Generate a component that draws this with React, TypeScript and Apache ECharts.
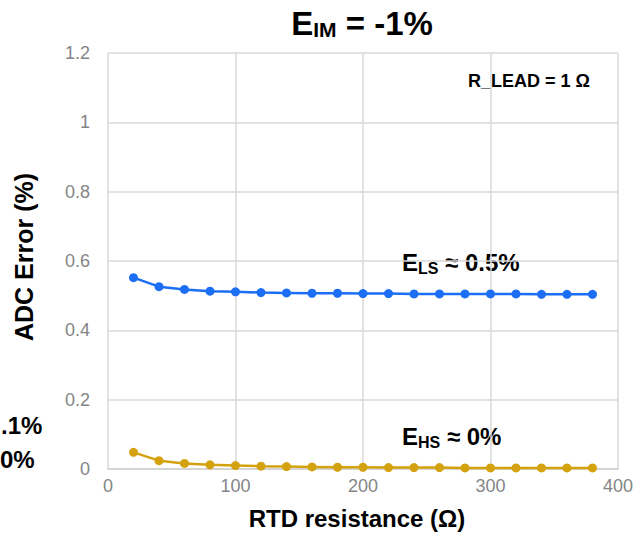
import React, { useEffect, useRef } from "react";
import * as echarts from "echarts";

// RTD resistance (Ω)
const rtdResistance = [20, 40, 60, 80, 100, 120, 140, 160, 180, 200, 220, 240, 260, 280, 300, 320, 340, 360, 380];
// ADC error (%) – low-side reference
const errorLowSide = [0.552, 0.526, 0.518, 0.513, 0.511, 0.509, 0.508, 0.507, 0.507, 0.506, 0.506, 0.505, 0.505, 0.505, 0.505, 0.505, 0.504, 0.504, 0.504];
// ADC error (%) – high-side reference
const errorHighSide = [0.048, 0.024, 0.016, 0.012, 0.010, 0.008, 0.007, 0.006, 0.005, 0.005, 0.004, 0.004, 0.004, 0.003, 0.003, 0.003, 0.003, 0.003, 0.003];

const xTicks = [0, 100, 200, 300, 400];
const yTicks = [0, 0.2, 0.4, 0.6, 0.8, 1, 1.2];

const FONT = "'Liberation Sans', Arial, Helvetica, sans-serif";
const BLUE = "#1c6ff5";
const GOLD = "#d4a20e";
const GRID = "#d9d9d9";
const TICK = "#858585";

export default function App() {
  const ref = useRef<HTMLDivElement>(null);

  useEffect(() => {
    if (!ref.current) return;
    const chart = echarts.init(ref.current, undefined, { renderer: "svg" });

    const subRich = (big: number, small: number, smallLH: number, drop: number) => ({
      a: { fontSize: big, fontWeight: "bold", fontFamily: FONT, fill: "#000", lineHeight: big },
      b: {
        fontSize: small,
        fontWeight: "bold",
        fontFamily: FONT,
        fill: "#000",
        lineHeight: smallLH,
        padding: [drop, 0, 0, 0],
      },
    });

    chart.setOption({
      animation: false,
      backgroundColor: "#ffffff",
      grid: { left: 108, right: 16, top: 53, bottom: 71, containLabel: false },
      xAxis: {
        type: "value",
        min: xTicks[0],
        max: xTicks[xTicks.length - 1],
        interval: xTicks[1] - xTicks[0],
        axisLine: { show: true, lineStyle: { color: "#cfcfcf", width: 1.5 } },
        axisTick: { show: false },
        axisLabel: { color: TICK, fontSize: 18, fontFamily: FONT, margin: 8 },
        splitLine: { show: true, lineStyle: { color: GRID, width: 1.5 } },
      },
      yAxis: {
        type: "value",
        min: yTicks[0],
        max: yTicks[yTicks.length - 1],
        interval: 0.2,
        axisLine: { show: false },
        axisTick: { show: false },
        axisLabel: { color: TICK, fontSize: 18, fontFamily: FONT, margin: 18 },
        splitLine: { show: true, lineStyle: { color: GRID, width: 1.5 } },
      },
      series: [
        {
          name: "E_LS",
          type: "line",
          data: rtdResistance.map((x, i) => [x, errorLowSide[i]]),
          symbol: "circle",
          symbolSize: 9,
          lineStyle: { color: BLUE, width: 2.5 },
          itemStyle: { color: BLUE },
          z: 3,
        },
        {
          name: "E_HS",
          type: "line",
          data: rtdResistance.map((x, i) => [x, errorHighSide[i]]),
          symbol: "circle",
          symbolSize: 9,
          lineStyle: { color: GOLD, width: 2.5 },
          itemStyle: { color: GOLD },
          z: 3,
        },
      ],
      graphic: [
        {
          type: "text",
          x: 362,
          y: 7,
          style: {
            text: "{a|E}{b|IM}{a| = -1%}",
            align: "center",
            verticalAlign: "top",
            rich: subRich(33, 21, 19, 12),
          },
        },
        {
          type: "text",
          x: 468,
          y: 81,
          style: {
            text: "R_LEAD = 1 Ω",
            fontSize: 18,
            fontWeight: "bold",
            fontFamily: FONT,
            fill: "#000",
            align: "left",
            verticalAlign: "middle",
          },
        },
        {
          type: "text",
          x: 402,
          y: 250,
          style: {
            text: "{a|E}{b|LS}{a| ≈ 0.5%}",
            align: "left",
            verticalAlign: "top",
            rich: subRich(24, 16, 12, 12),
          },
        },
        {
          type: "text",
          x: 402,
          y: 424,
          style: {
            text: "{a|E}{b|HS}{a| ≈ 0%}",
            align: "left",
            verticalAlign: "top",
            rich: subRich(24, 16, 12, 12),
          },
        },
        {
          type: "text",
          x: 1,
          y: 425,
          style: {
            text: ".1%",
            fontSize: 24,
            fontWeight: "bold",
            fontFamily: FONT,
            fill: "#000",
            align: "left",
            verticalAlign: "middle",
          },
        },
        {
          type: "text",
          x: 0,
          y: 459,
          style: {
            text: "0%",
            fontSize: 24,
            fontWeight: "bold",
            fontFamily: FONT,
            fill: "#000",
            align: "left",
            verticalAlign: "middle",
          },
        },
        {
          type: "text",
          x: 357,
          y: 518,
          style: {
            text: "RTD resistance (Ω)",
            fontSize: 24,
            fontWeight: "bold",
            fontFamily: FONT,
            fill: "#000",
            align: "center",
            verticalAlign: "middle",
          },
        },
        {
          type: "text",
          x: 24,
          y: 257,
          rotation: Math.PI / 2,
          style: {
            text: "ADC Error (%)",
            fontSize: 25,
            fontWeight: "bold",
            fontFamily: FONT,
            fill: "#000",
            align: "center",
            verticalAlign: "middle",
          },
        },
      ],
    });

    return () => chart.dispose();
  }, []);

  return (
    <div
      ref={ref}
      style={{ position: "fixed", left: 0, top: 0, width: 636, height: 540 }}
    />
  );
}
